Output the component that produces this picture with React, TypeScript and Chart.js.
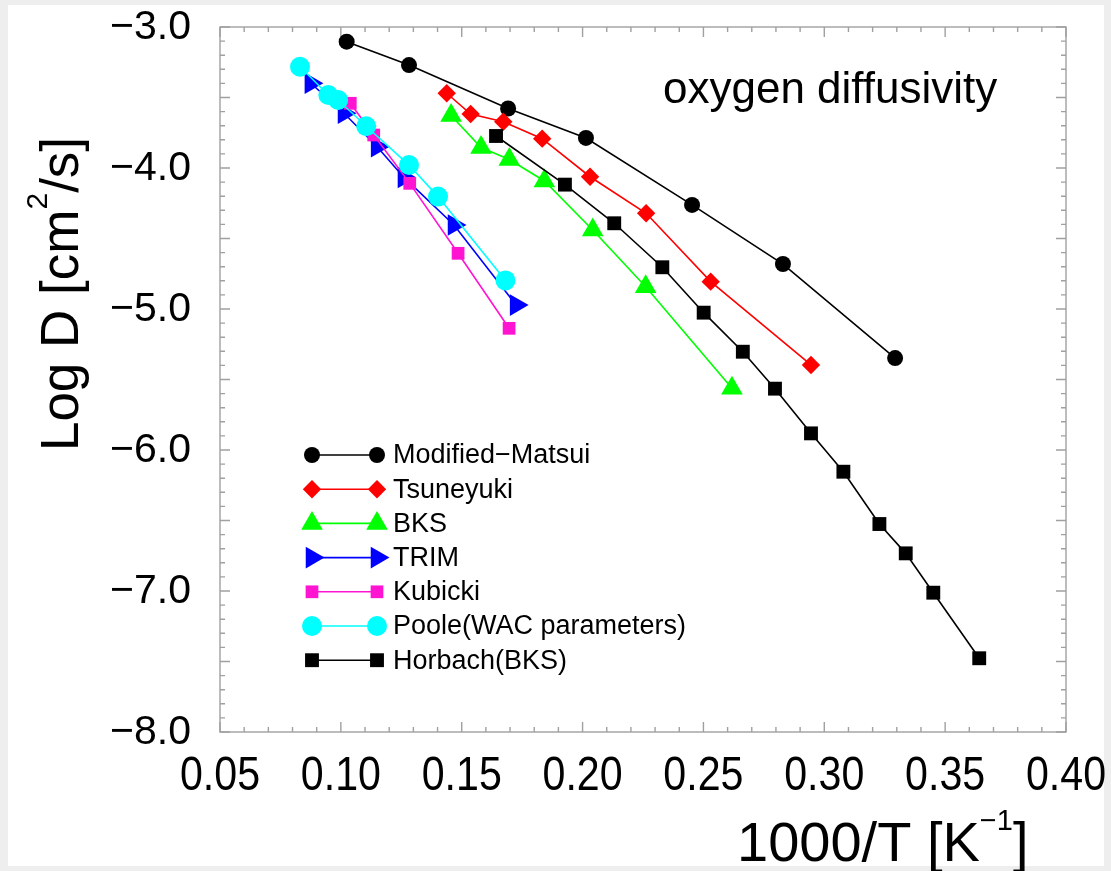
import React, { useEffect, useRef } from "react";
import { Chart, registerables } from "chart.js";

Chart.register(...registerables);

// ---- data (1000/T in K^-1, log D in cm^2/s) ----
const matsuiX = [0.1024, 0.1282, 0.1692, 0.2014, 0.2453, 0.2829, 0.3293];
const matsuiY = [-3.104, -3.270, -3.578, -3.787, -4.262, -4.681, -5.348];

const tsuneyukiX = [0.1438, 0.1537, 0.1672, 0.1833, 0.2031, 0.2263, 0.2530, 0.2945];
const tsuneyukiY = [-3.470, -3.617, -3.672, -3.792, -4.062, -4.321, -4.806, -5.397];

const bksX = [0.1456, 0.1580, 0.1697, 0.1842, 0.2042, 0.2261, 0.2618];
const bksY = [-3.628, -3.855, -3.940, -4.092, -4.440, -4.842, -5.562];

const trimX = [0.0876, 0.1013, 0.1150, 0.1261, 0.1468, 0.1725];
const trimY = [-3.399, -3.612, -3.849, -4.067, -4.404, -4.972];

const kubickiX = [0.1039, 0.1136, 0.1285, 0.1485, 0.1696];
const kubickiY = [-3.541, -3.766, -4.109, -4.605, -5.137];

const pooleX = [0.0831, 0.0948, 0.0989, 0.1105, 0.1282, 0.1402, 0.1681];
const pooleY = [-3.282, -3.482, -3.518, -3.704, -3.979, -4.203, -4.797];

const horbachX = [0.1642, 0.1927, 0.2131, 0.2330, 0.2501, 0.2663, 0.2796, 0.2945, 0.3079, 0.3228, 0.3337, 0.3451, 0.3641];
const horbachY = [-3.773, -4.118, -4.392, -4.704, -5.026, -5.303, -5.565, -5.882, -6.154, -6.525, -6.733, -7.012, -7.477];

const seriesLabels = [
  "Modified\u2212Matsui",
  "Tsuneyuki",
  "BKS",
  "TRIM",
  "Kubicki",
  "Poole(WAC parameters)",
  "Horbach(BKS)",
];
const seriesX = [matsuiX, tsuneyukiX, bksX, trimX, kubickiX, pooleX, horbachX];
const seriesY = [matsuiY, tsuneyukiY, bksY, trimY, kubickiY, pooleY, horbachY];

const xTickValues = [0.05, 0.1, 0.15, 0.2, 0.25, 0.3, 0.35, 0.4];
const xTickLabels = ["0.05", "0.10", "0.15", "0.20", "0.25", "0.30", "0.35", "0.40"];
const yTickValues = [-3, -4, -5, -6, -7, -8];
const yTickLabels = ["\u22123.0", "\u22124.0", "\u22125.0", "\u22126.0", "\u22127.0", "\u22128.0"];

const annotationText = "oxygen diffusivity";

// ---- styles ----
const styles = [
  { color: "#000000", shape: "circle", radius: 8, rotation: 0 },
  { color: "#ff0000", shape: "rectRot", radius: 9.2, rotation: 0 },
  { color: "#00ff00", shape: "triangle", radius: 12.5, rotation: 0 },
  { color: "#0000ff", shape: "triangle", radius: 12.5, rotation: 90 },
  { color: "#ff14d2", shape: "rect", radius: 9, rotation: 0 },
  { color: "#00ffff", shape: "circle", radius: 10, rotation: 0 },
  { color: "#000000", shape: "rect", radius: 9.8, rotation: 0 },
];

const W = 1111;
const H = 871;
const FONT = "'Liberation Sans', Arial, Helvetica, sans-serif";

function drawMarker(ctx: CanvasRenderingContext2D, shape: string, x: number, y: number, r: number, color: string, rotation: number) {
  ctx.save();
  ctx.fillStyle = color;
  ctx.beginPath();
  if (shape === "circle") {
    ctx.arc(x, y, r, 0, Math.PI * 2);
  } else if (shape === "rect") {
    const s = r * Math.SQRT1_2;
    ctx.rect(x - s, y - s, 2 * s, 2 * s);
  } else if (shape === "rectRot") {
    ctx.moveTo(x - r, y);
    ctx.lineTo(x, y - r);
    ctx.lineTo(x + r, y);
    ctx.lineTo(x, y + r);
    ctx.closePath();
  } else if (shape === "triangle") {
    let rad = (rotation * Math.PI) / 180;
    ctx.moveTo(x + Math.sin(rad) * r, y - Math.cos(rad) * r);
    rad += (2 * Math.PI) / 3;
    ctx.lineTo(x + Math.sin(rad) * r, y - Math.cos(rad) * r);
    rad += (2 * Math.PI) / 3;
    ctx.lineTo(x + Math.sin(rad) * r, y - Math.cos(rad) * r);
    ctx.closePath();
  }
  ctx.fill();
  ctx.restore();
}

type Part = { t: string; size: number; dy: number };
function drawParts(ctx: CanvasRenderingContext2D, parts: Part[], x: number, y: number, align: "left" | "center") {
  let total = 0;
  const widths = parts.map((p) => {
    ctx.font = `${p.size}px ${FONT}`;
    const w = ctx.measureText(p.t).width;
    total += w;
    return w;
  });
  let cx = align === "center" ? x - total / 2 : x;
  ctx.textAlign = "left";
  ctx.textBaseline = "alphabetic";
  parts.forEach((p, i) => {
    ctx.font = `${p.size}px ${FONT}`;
    ctx.fillText(p.t, cx, y + p.dy);
    cx += widths[i];
  });
}

const decorPlugin = {
  id: "decor",
  beforeDraw(chart: any) {
    const ctx: CanvasRenderingContext2D = chart.ctx;
    ctx.save();
    ctx.fillStyle = "#eeeeee";
    ctx.fillRect(0, 0, W, H);
    ctx.fillStyle = "#ffffff";
    ctx.fillRect(8, 5, 1096, 861);
    ctx.restore();
  },
  beforeDatasetsDraw(chart: any) {
    const ctx: CanvasRenderingContext2D = chart.ctx;
    const { left, right, top, bottom } = chart.chartArea;
    const xs = chart.scales.x;
    const ys = chart.scales.y;
    ctx.save();
    ctx.strokeStyle = "#a0a0a0";
    ctx.lineWidth = 1.4;
    ctx.strokeRect(left, top, right - left, bottom - top);
    ctx.beginPath();
    // x ticks (bottom + top), minor every 0.01, major every 0.05
    for (let i = 0; i <= 35; i++) {
      const v = 0.05 + i * 0.01;
      const px = xs.getPixelForValue(v);
      const len = i % 5 === 0 ? 10 : 5;
      ctx.moveTo(px, bottom);
      ctx.lineTo(px, bottom - len);
      ctx.moveTo(px, top);
      ctx.lineTo(px, top + len);
    }
    // y ticks (left + right), minor every 0.1, major every 0.5
    for (let i = 0; i <= 50; i++) {
      const v = -8 + i * 0.1;
      const py = ys.getPixelForValue(v);
      const len = i % 5 === 0 ? 10 : 5;
      ctx.moveTo(left, py);
      ctx.lineTo(left + len, py);
      ctx.moveTo(right, py);
      ctx.lineTo(right - len, py);
    }
    ctx.stroke();
    ctx.restore();
  },
  afterDraw(chart: any) {
    const ctx: CanvasRenderingContext2D = chart.ctx;
    const xs = chart.scales.x;
    const ys = chart.scales.y;
    ctx.save();
    ctx.fillStyle = "#000000";

    // y tick labels
    ctx.font = `41px ${FONT}`;
    ctx.textAlign = "right";
    ctx.textBaseline = "middle";
    yTickValues.forEach((v, i) => {
      ctx.fillText(yTickLabels[i], 191, ys.getPixelForValue(v) + 1);
    });

    // x tick labels (slightly condensed, as in the original)
    ctx.font = `49px ${FONT}`;
    ctx.textAlign = "center";
    ctx.textBaseline = "alphabetic";
    xTickValues.forEach((v, i) => {
      ctx.save();
      ctx.translate(xs.getPixelForValue(v), 790);
      ctx.scale(0.84, 1);
      ctx.fillText(xTickLabels[i], 0, 0);
      ctx.restore();
    });

    // x title
    drawParts(
      ctx,
      [
        { t: "1000/T [K", size: 56, dy: 0 },
        { t: "\u22121", size: 29, dy: -31 },
        { t: "]", size: 56, dy: 0 },
      ],
      737,
      861,
      "left"
    );

    // y title (rotated)
    ctx.save();
    ctx.translate(78, 294);
    ctx.rotate(-Math.PI / 2);
    drawParts(
      ctx,
      [
        { t: "Log D [cm", size: 53, dy: 0 },
        { t: "2", size: 30, dy: -31 },
        { t: "/s]", size: 53, dy: 0 },
      ],
      0,
      0,
      "center"
    );
    ctx.restore();

    // annotation
    ctx.font = `44px ${FONT}`;
    ctx.textAlign = "left";
    ctx.textBaseline = "alphabetic";
    ctx.fillText(annotationText, 663, 103);

    // legend
    const rowY0 = 455;
    const rowStep = 34.2;
    const mx1 = 312;
    const mx2 = 377;
    seriesLabels.forEach((label, i) => {
      const st = styles[i];
      const y = rowY0 + i * rowStep;
      ctx.strokeStyle = st.color;
      ctx.lineWidth = 1.6;
      ctx.beginPath();
      ctx.moveTo(mx1, y);
      ctx.lineTo(mx2, y);
      ctx.stroke();
      drawMarker(ctx, st.shape, mx1, y, st.radius, st.color, st.rotation);
      drawMarker(ctx, st.shape, mx2, y, st.radius, st.color, st.rotation);
      ctx.fillStyle = "#000000";
      ctx.font = `27px ${FONT}`;
      ctx.textAlign = "left";
      ctx.textBaseline = "middle";
      ctx.fillText(label, 393, y + 1);
    });
    ctx.restore();
  },
};

export default function App() {
  const canvasRef = useRef<HTMLCanvasElement | null>(null);

  useEffect(() => {
    document.body.style.margin = "0";
    document.body.style.background = "#eeeeee";
    const canvas = canvasRef.current;
    if (!canvas) return;
    const n = seriesLabels.length;
    const datasets = seriesLabels.map((label, i) => ({
      label,
      data: seriesX[i].map((x, j) => ({ x, y: seriesY[i][j] })),
      borderColor: styles[i].color,
      backgroundColor: styles[i].color,
      borderWidth: 1.6,
      pointStyle: styles[i].shape,
      pointRadius: styles[i].radius,
      pointRotation: styles[i].rotation,
      pointBorderWidth: 0,
      pointBackgroundColor: styles[i].color,
      pointBorderColor: styles[i].color,
      showLine: true,
      fill: false,
      tension: 0,
      order: n - i,
    }));
    const chart = new Chart(canvas, {
      type: "scatter",
      data: { datasets },
      options: {
        animation: false,
        responsive: false,
        maintainAspectRatio: false,
        layout: { padding: { left: 220, top: 27, right: 45, bottom: 139 } },
        plugins: { legend: { display: false }, tooltip: { enabled: false } },
        scales: {
          x: {
            type: "linear",
            min: 0.05,
            max: 0.4,
            ticks: { display: false },
            grid: { display: false, drawTicks: false },
            border: { display: false },
          },
          y: {
            type: "linear",
            min: -8,
            max: -3,
            ticks: { display: false },
            grid: { display: false, drawTicks: false },
            border: { display: false },
          },
        },
      },
      plugins: [decorPlugin],
    } as any);
    return () => chart.destroy();
  }, []);

  return (
    <div style={{ width: W, height: H, position: "relative" }}>
      <canvas ref={canvasRef} width={W} height={H} style={{ display: "block", width: W, height: H }} />
    </div>
  );
}
